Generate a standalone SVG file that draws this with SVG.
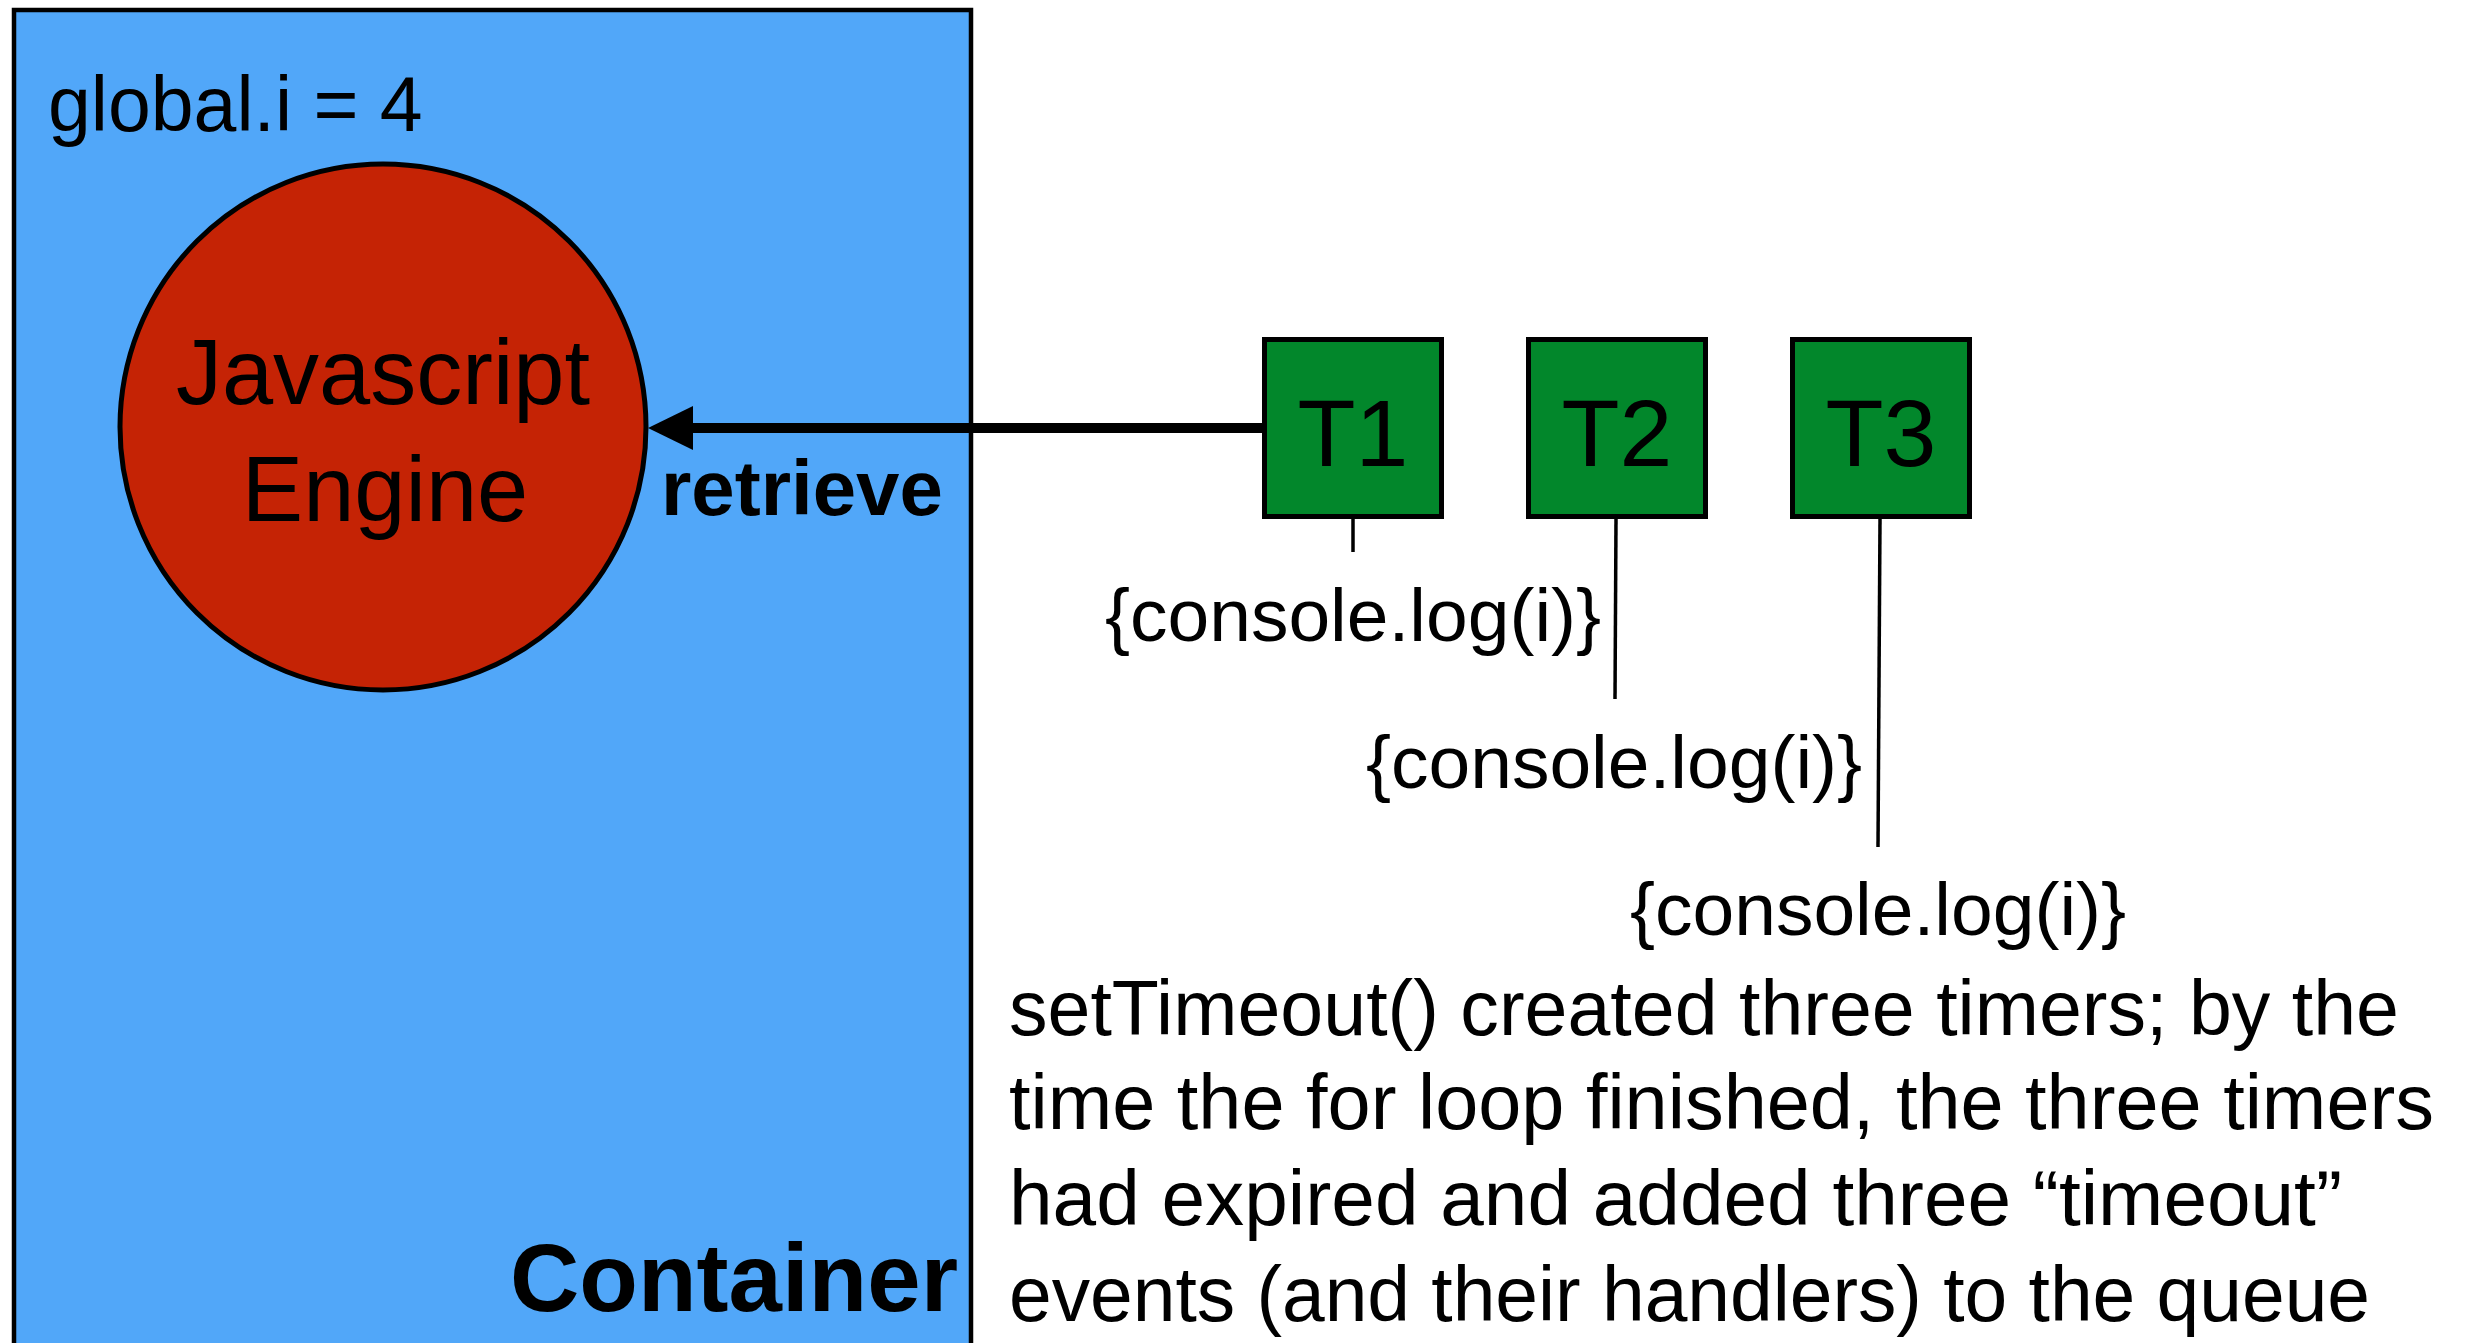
<svg xmlns="http://www.w3.org/2000/svg" width="2469" height="1343" viewBox="0 0 2469 1343">
<style>
  .t { font-family: "Liberation Sans", Arial, Helvetica, sans-serif; fill: #000; }
  .reg { font-size: 77px; }
  .code { font-size: 75px; }
  .timer { fill: #02872B; stroke: #000; stroke-width: 5; }
  .tlabel { font-size: 95px; text-anchor: middle; }
  .stub { stroke: #000; stroke-width: 3.5; fill: none; }
</style>
<defs>
  <marker id="arrowhead" viewBox="0 0 45 44" refX="0" refY="22" markerWidth="45" markerHeight="44" markerUnits="userSpaceOnUse" orient="auto">
    <path d="M0,0 L45,22 L0,44 z" fill="#000"/>
  </marker>
</defs>
<rect width="2469" height="1343" fill="#fff"/>

<g id="container">
  <rect x="14" y="10" width="957" height="1360" fill="#51A7F9" stroke="#000" stroke-width="4.5"/>
  <text class="t reg" x="48" y="131">global.i = 4</text>
  <text class="t" x="958" y="1311" font-size="96" font-weight="bold" text-anchor="end">Container</text>
</g>

<g id="engine">
  <circle cx="383" cy="427" r="263" fill="#C52305" stroke="#000" stroke-width="5"/>
  <text class="t" x="383" y="404" font-size="92" text-anchor="middle">Javascript</text>
  <text class="t" x="385" y="521" font-size="92" text-anchor="middle">Engine</text>
</g>

<g id="connectors">
  <line x1="1262" y1="428" x2="693" y2="428" stroke="#000" stroke-width="10" marker-end="url(#arrowhead)"/>
  <line class="stub" x1="1353" y1="519" x2="1353" y2="552"/>
  <line class="stub" x1="1616" y1="519" x2="1615" y2="699"/>
  <line class="stub" x1="1880" y1="519" x2="1878" y2="847"/>
</g>
<text class="t" x="661" y="515" font-size="78" font-weight="bold">retrieve</text>

<g id="T1">
  <rect class="timer" x="1264.5" y="339.5" width="177" height="177"/>
  <text class="t tlabel" x="1353" y="466">T1</text>
</g>
<g id="T2">
  <rect class="timer" x="1528.5" y="339.5" width="177" height="177"/>
  <text class="t tlabel" x="1617" y="466">T2</text>
</g>
<g id="T3">
  <rect class="timer" x="1792.5" y="339.5" width="177" height="177"/>
  <text class="t tlabel" x="1881" y="466">T3</text>
</g>

<g id="handler1"><text class="t code" x="1353" y="641" text-anchor="middle">{console.log(i)}</text></g>
<g id="handler2"><text class="t code" x="1614" y="788" text-anchor="middle">{console.log(i)}</text></g>
<g id="handler3"><text class="t code" x="1878" y="935" text-anchor="middle">{console.log(i)}</text></g>

<g id="note">
  <text class="t reg" x="1009" y="1035" textLength="1390" lengthAdjust="spacingAndGlyphs">setTimeout() created three timers; by the</text>
  <text class="t reg" x="1009" y="1129" textLength="1425" lengthAdjust="spacingAndGlyphs">time the for loop finished, the three timers</text>
  <text class="t reg" x="1009" y="1225" textLength="1333" lengthAdjust="spacingAndGlyphs">had expired and added three “timeout”</text>
  <text class="t reg" x="1009" y="1321" textLength="1361" lengthAdjust="spacingAndGlyphs">events (and their handlers) to the queue</text>
</g>
</svg>
